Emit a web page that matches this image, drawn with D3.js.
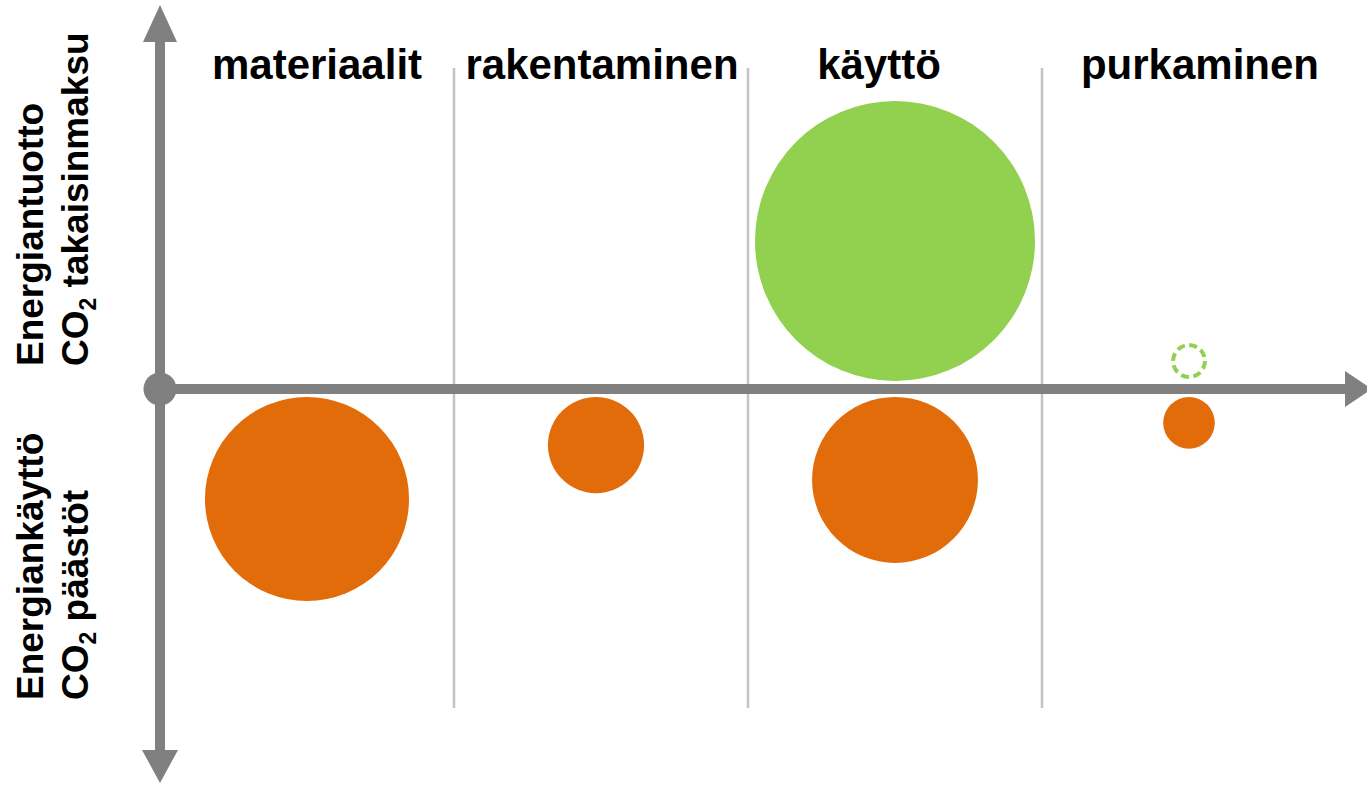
<!DOCTYPE html>
<html>
<head>
<meta charset="utf-8">
<script src="https://cdn.jsdelivr.net/npm/d3@7"></script>
<style>
  body { margin: 0; background: #fff; }
  svg { display: block; font-family: "Liberation Sans", Arial, sans-serif; }
</style>
</head>
<body>
<div id="chart"></div>
<script>
const width = 1367, height = 785;

// data
const phases = ["materiaalit", "rakentaminen", "käyttö", "purkaminen"];
const emissions = [53.1, 11.8, 35.1, 3.4];      // orange, below the axis
const production = [0, 0, 100, 1.3];            // green, above the axis
const productionDashed = [false, false, false, true];

const axisX = 160, axisY = 389;
const gap = 8;

let svg = d3.select("#chart")
    .append("svg")
    .attr("width", width)
    .attr("height", height);

let x = d3.scaleBand()
    .domain(phases)
    .range([axisX, 1336])
    .padding(0);

let r = d3.scaleSqrt()
    .domain([0, 100])
    .range([0, 140]);

// column dividers
svg.append("g")
    .selectAll("line")
    .data(phases.slice(1))
    .enter()
    .append("line")
    .attr("x1", d => x(d))
    .attr("x2", d => x(d))
    .attr("y1", 68)
    .attr("y2", 708)
    .style("stroke", "#c4c4c4")
    .style("stroke-width", 2.5);

// column labels
const labelNudge = [10, 1, -16, 11];
svg.append("g")
    .selectAll("text")
    .data(phases)
    .enter()
    .append("text")
    .attr("x", (d, i) => x(d) + x.bandwidth() / 2 + labelNudge[i])
    .attr("y", 79)
    .style("text-anchor", "middle")
    .style("font-size", "42px")
    .style("font-weight", "bold")
    .style("fill", "#000")
    .text(d => d);

// circles below the axis
const circleNudge = [0, -5, 0, 0];
svg.append("g")
    .selectAll("circle")
    .data(phases.map((p, i) => ({phase: p, i: i, v: emissions[i]})).filter(d => d.v > 0))
    .enter()
    .append("circle")
    .attr("cx", d => x(d.phase) + x.bandwidth() / 2 + circleNudge[d.i])
    .attr("cy", d => axisY + gap + r(d.v))
    .attr("r", d => r(d.v))
    .style("fill", "#e36c0a");

// circles above the axis
svg.append("g")
    .selectAll("circle")
    .data(phases.map((p, i) => ({phase: p, v: production[i], dashed: productionDashed[i]})).filter(d => d.v > 0))
    .enter()
    .append("circle")
    .attr("cx", d => x(d.phase) + x.bandwidth() / 2)
    .attr("cy", d => axisY - gap - r(d.v) - (d.dashed ? 4 : 0))
    .attr("r", d => r(d.v))
    .style("fill", d => d.dashed ? "none" : "#92d050")
    .style("stroke", d => d.dashed ? "#92d050" : "none")
    .style("stroke-width", 4)
    .style("stroke-dasharray", d => d.dashed ? "8,4.5" : null);

// axes
const axisColor = "#808080";
let axes = svg.append("g");

axes.append("line")
    .attr("x1", axisX).attr("x2", axisX)
    .attr("y1", 40).attr("y2", 752)
    .style("stroke", axisColor)
    .style("stroke-width", 10);

axes.append("line")
    .attr("x1", axisX).attr("x2", 1347)
    .attr("y1", axisY).attr("y2", axisY)
    .style("stroke", axisColor)
    .style("stroke-width", 10);

axes.append("path")
    .attr("d", `M${axisX},5 L${axisX - 17},42 L${axisX + 17},42 Z`)
    .style("fill", axisColor);

axes.append("path")
    .attr("d", `M${axisX},783 L${axisX - 18},750 L${axisX + 18},750 Z`)
    .style("fill", axisColor);

axes.append("path")
    .attr("d", `M1372,${axisY} L1345,${axisY - 18} L1345,${axisY + 18} Z`)
    .style("fill", axisColor);

axes.append("circle")
    .attr("cx", axisX)
    .attr("cy", axisY)
    .attr("r", 16.5)
    .style("fill", axisColor);

// y-axis labels (rotated, two lines each)
function sideLabel(y0, line1, line2) {
    svg.append("text")
        .attr("transform", `translate(43, ${y0}) rotate(-90)`)
        .style("font-size", "37px")
        .style("font-weight", "bold")
        .text(line1);

    let t2 = svg.append("text")
        .attr("transform", `translate(88, ${y0}) rotate(-90)`)
        .style("font-size", "37px")
        .style("font-weight", "bold");
    t2.append("tspan").text("CO");
    t2.append("tspan").attr("dy", 8).style("font-size", "23px").text("2");
    t2.append("tspan").attr("dy", -8).text(" " + line2);
}

sideLabel(366, "Energiantuotto", "takaisinmaksu");
sideLabel(700, "Energiankäyttö", "päästöt");
</script>
</body>
</html>
